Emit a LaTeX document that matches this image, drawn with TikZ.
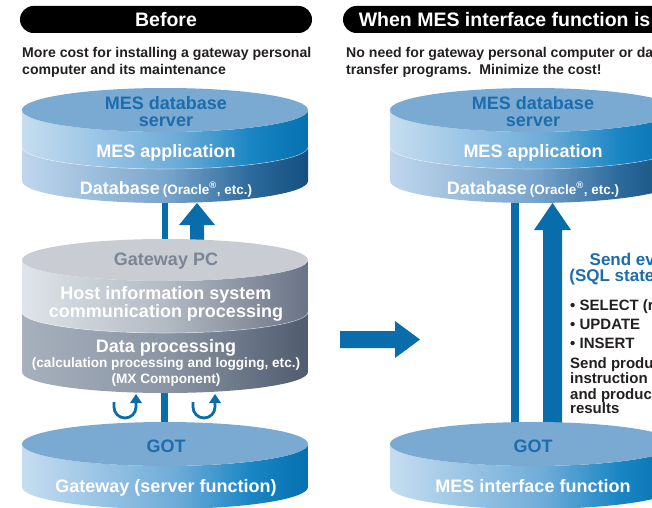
\documentclass[tikz,border=0pt]{standalone}
\usepackage{fontspec}
\setmainfont{Liberation Sans}
\definecolor{arrowblue}{HTML}{0A6DAB}
\definecolor{topblue}{HTML}{7AAAD2}
\definecolor{txtblue}{HTML}{1B6DAD}
\definecolor{gtop}{HTML}{C9CDD3}
\definecolor{gtxt}{HTML}{7B8595}
\definecolor{darktxt}{HTML}{231F20}
\definecolor{ua1}{HTML}{C6DDF0}\definecolor{ua2}{HTML}{6BAAD7}\definecolor{ua3}{HTML}{1A86C4}\definecolor{ua4}{HTML}{0670B0}
\definecolor{la1}{HTML}{BFD6EC}\definecolor{la2}{HTML}{7AA5CC}\definecolor{la3}{HTML}{2C6A9C}\definecolor{la4}{HTML}{14507F}
\definecolor{gu1}{HTML}{DFE4EA}\definecolor{gu2}{HTML}{B3BAC4}\definecolor{gu3}{HTML}{6A7385}
\definecolor{gl1}{HTML}{A7B1BD}\definecolor{gl2}{HTML}{8A95A5}\definecolor{gl3}{HTML}{505C6E}
% TikZ maps the path's box onto the middle 25bp..75bp of a 100bp shading
\pgfdeclarehorizontalshading{bandup}{100bp}{color(0bp)=(ua1); color(25bp)=(ua1); color(52.5bp)=(ua2); color(65bp)=(ua3); color(75bp)=(ua4); color(100bp)=(ua4)}
\pgfdeclarehorizontalshading{bandlow}{100bp}{color(0bp)=(la1); color(25bp)=(la1); color(50bp)=(la2); color(65bp)=(la3); color(75bp)=(la4); color(100bp)=(la4)}
\pgfdeclarehorizontalshading{bandgup}{100bp}{color(0bp)=(gu1); color(25bp)=(gu1); color(50bp)=(gu2); color(75bp)=(gu3); color(100bp)=(gu3)}
\pgfdeclarehorizontalshading{bandglow}{100bp}{color(0bp)=(gl1); color(25bp)=(gl1); color(50bp)=(gl2); color(75bp)=(gl3); color(100bp)=(gl3)}
% band: cx, Ytop, Ybot, rx, ry, shading
\newcommand\cylband[6]{%
  \shade[shading=#6] (#1-#4,#2) -- (#1-#4,#3)
    arc[start angle=180,end angle=360,x radius=#4pt,y radius=#5pt]
    -- (#1+#4,#2)
    arc[start angle=0,end angle=-180,x radius=#4pt,y radius=#5pt] -- cycle;}
\newcommand\cyltop[5]{% cx, Y, rx, ry, color
  \fill[#5] (#1,#2) ellipse[x radius=#3pt,y radius=#4pt];}
\newcommand\cyldiv[4]{% cx, Y, rx, ry
  \draw[white,opacity=0.45,line width=0.6pt] (#1-#3,#2) arc[start angle=180,end angle=360,x radius=#3pt,y radius=#4pt];}
\begin{document}
\begin{tikzpicture}[x=1pt,y=1pt,
  lbl/.style={inner sep=0pt,anchor=base},
  big/.style={font=\fontsize{18}{20}\selectfont\bfseries},
  small/.style={font=\fontsize{13.6}{15}\selectfont\bfseries},
  sub/.style={font=\fontsize{14.1}{16}\selectfont\bfseries,text=darktxt},
  side/.style={font=\fontsize{15}{16}\selectfont\bfseries,text=darktxt},
  ubar/.style={arrowblue,line width=2.8pt}]
\useasboundingbox (0,0) rectangle (652,507);
\clip (0,0) rectangle (652,507);

% ---------- headers ----------
\fill[black,rounded corners=13.5pt] (20,474) rectangle (312,501);
\node[lbl,font=\fontsize{19.5}{21}\selectfont\bfseries,text=white] (hb) at (166,480) {Before};
\fill[black,rounded corners=13.5pt] (343,474) rectangle (713,501);
\node[lbl,font=\fontsize{19.5}{21}\selectfont\bfseries,text=white] (ha) at (530,480) {When MES interface function is used};

\node[lbl,sub,anchor=base west] (s1) at (22,449) {More cost for installing a gateway personal};
\node[lbl,sub,anchor=base west] (s2) at (22,432) {computer and its maintenance};
\node[lbl,sub,anchor=base west] (s3) at (346,449) {No need for gateway personal computer or data};
\node[lbl,sub,anchor=base west] (s4) at (346,432) {transfer programs.\ \ Minimize the cost!};

% ---------- LEFT: connectors ----------
\fill[arrowblue] (162,312) rectangle (168,250);
\fill[arrowblue] (190,262) -- (190,282) -- (179,282) -- (197,304) -- (215,282) -- (204,282) -- (204,262) -- cycle;
\fill[arrowblue] (161,120) rectangle (168,70);
% U-turn arrows
\draw[ubar] (114,105) -- (114,100) arc[start angle=180,end angle=360,radius=11pt] -- (136,104);
\fill[arrowblue] (130,104) -- (142,104) -- (136,113) -- cycle;
\draw[ubar] (193,105) -- (193,100) arc[start angle=180,end angle=360,radius=11pt] -- (215,104);
\fill[arrowblue] (209,104) -- (221,104) -- (215,113) -- cycle;

% ---------- LEFT: MES database server ----------
\cylband{165}{360}{326}{143}{22}{bandlow}
\cylband{165}{397}{360}{143}{22}{bandup}
\cyldiv{165}{360}{143}{22}
\cyltop{165}{397}{143}{22}{topblue}
\node[lbl,big,text=txtblue] (l1) at (166,397) {MES database};
\node[lbl,big,text=txtblue] (l2) at (166,381) {server};
\node[lbl,big,text=white] (l3) at (166,350) {MES application};
\node[lbl,text=white] (l4) at (166,313) {{\fontsize{18}{20}\selectfont\bfseries Database} {\fontsize{13.5}{15}\selectfont\bfseries (Oracle\textsuperscript{\textregistered}, etc.)}};

% ---------- LEFT: Gateway PC ----------
\cylband{165}{195}{135}{143}{21}{bandglow}
\cylband{165}{247}{195}{143}{21}{bandgup}
\cyldiv{165}{195}{143}{21}
\cyltop{165}{247}{143}{21}{gtop}
\node[lbl,big,text=gtxt] (g1) at (166,242) {Gateway PC};
\node[lbl,big,text=white] (g2) at (166,208) {Host information system};
\node[lbl,big,text=white] (g3) at (166,190) {communication processing};
\node[lbl,big,text=white] (g4) at (166,155) {Data processing};
\node[lbl,small,text=white] (g5) at (166,140) {(calculation processing and logging, etc.)};
\node[lbl,small,text=white] (g6) at (166,124) {(MX Component)};

% ---------- LEFT: GOT ----------
\cylband{165}{63}{20}{143}{22}{bandup}
\cyltop{165}{63}{143}{22}{topblue}
\node[lbl,big,text=txtblue] (o1) at (166,55) {GOT};
\node[lbl,big,text=white] (o2) at (166,15) {Gateway (server function)};

% ---------- middle arrow ----------
\fill[arrowblue] (340,176) -- (395,176) -- (395,186) -- (420,167.5) -- (395,149) -- (395,159) -- (340,159) -- cycle;

% ---------- RIGHT: connectors ----------
\fill[arrowblue] (511,312) rectangle (519,70);
\fill[arrowblue] (543,70) -- (543,277) -- (534,277) -- (552.5,304) -- (571,277) -- (562,277) -- (562,70) -- cycle;

% ---------- RIGHT: MES database server ----------
\cylband{533}{360}{326}{143}{22}{bandlow}
\cylband{533}{397}{360}{143}{22}{bandup}
\cyldiv{533}{360}{143}{22}
\cyltop{533}{397}{143}{22}{topblue}
\node[lbl,big,text=txtblue] (r1) at (533,397) {MES database};
\node[lbl,big,text=txtblue] (r2) at (533,381) {server};
\node[lbl,big,text=white] (r3) at (533,350) {MES application};
\node[lbl,text=white] (r4) at (533,313) {{\fontsize{18}{20}\selectfont\bfseries Database} {\fontsize{13.5}{15}\selectfont\bfseries (Oracle\textsuperscript{\textregistered}, etc.)}};

% ---------- RIGHT: GOT ----------
\cylband{533}{63}{20}{143}{22}{bandup}
\cyltop{533}{63}{143}{22}{topblue}
\node[lbl,big,text=txtblue] (p1) at (533,55) {GOT};
\node[lbl,big,text=white] (p2) at (533,15) {MES interface function};

% ---------- RIGHT: side text ----------
\node[lbl,font=\fontsize{17}{18}\selectfont\bfseries,text=txtblue] (e1) at (635,242) {Send event};
\node[lbl,font=\fontsize{17}{18}\selectfont\bfseries,text=txtblue] (e2) at (635,226) {(SQL statement)};
\node[lbl,side,anchor=base west] (b1) at (570,197) {\textbullet\ SELECT (read)};
\node[lbl,side,anchor=base west] (b2) at (570,178) {\textbullet\ UPDATE};
\node[lbl,side,anchor=base west] (b3) at (570,159) {\textbullet\ INSERT};
\node[lbl,side,anchor=base west] (t1) at (570,139) {Send production};
\node[lbl,side,anchor=base west] (t2) at (570,124) {instruction data};
\node[lbl,side,anchor=base west] (t3) at (570,108) {and production};
\node[lbl,side,anchor=base west] (t4) at (570,94) {results};
\end{tikzpicture}
\end{document}
